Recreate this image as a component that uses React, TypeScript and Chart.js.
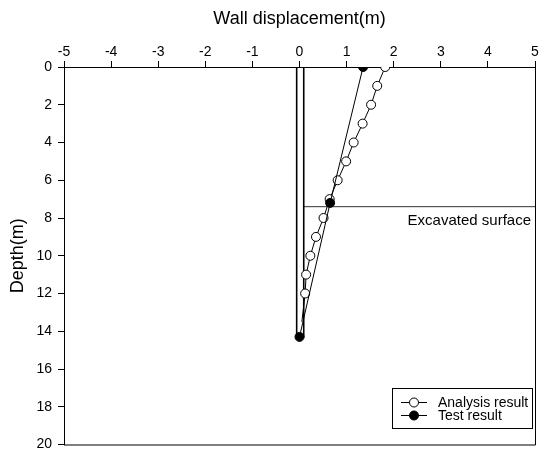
import React, { useEffect, useRef } from "react";
import { Chart, registerables } from "chart.js";

Chart.register(...registerables);

const analysisX = [1.82, 1.65, 1.52, 1.34, 1.15, 0.99, 0.81, 0.64, 0.51, 0.35, 0.23, 0.14, 0.12, 0.05];
const analysisDepth = [0, 1, 2, 3, 4, 5, 6, 7, 8, 9, 10, 11, 12, 13.5];
const testX = [1.35, 0.65, 0];
const testDepth = [0, 7.2, 14.3];
const wallX = [-0.06, -0.06, 0.09, 0.09];
const wallDepth = [0, 14.3, 14.3, 0];
const excavX = [0.09, 5];
const excavDepth = [7.4, 7.4];
const xTitle = "Wall displacement(m)";
const yTitle = "Depth(m)";
const legendLabels = ["Analysis result", "Test result"];
const excavLabel = "Excavated surface";

const FONT = "Arial, 'Liberation Sans', sans-serif";

function pts(xs: number[], ys: number[]) {
  return xs.map((x, i) => ({ x, y: ys[i] }));
}

const overlayPlugin = {
  id: "overlay",
  afterDatasetsDraw(chart: any) {
    const { ctx, chartArea } = chart;
    const ys = chart.scales.y;
    ctx.save();
    // right + bottom frame
    ctx.strokeStyle = "#000";
    ctx.lineWidth = 1;
    ctx.beginPath();
    ctx.moveTo(chartArea.right + 0.5, chartArea.top);
    ctx.lineTo(chartArea.right + 0.5, chartArea.bottom + 0.5);
    ctx.lineTo(chartArea.left, chartArea.bottom + 0.5);
    ctx.stroke();

    // excavated label
    ctx.fillStyle = "#000";
    ctx.font = `15px ${FONT}`;
    ctx.textAlign = "right";
    ctx.textBaseline = "alphabetic";
    ctx.fillText(excavLabel, chartArea.right - 4, ys.getPixelForValue(excavDepth[0]) + 18);

    // legend
    const bx = 392, by = 388, bw = 140, bh = 40;
    ctx.fillStyle = "#fff";
    ctx.fillRect(bx, by, bw, bh);
    ctx.strokeStyle = "#000";
    ctx.strokeRect(bx + 0.5, by + 0.5, bw, bh);
    const rows = [by + 14, by + 27];
    ctx.font = `14px ${FONT}`;
    ctx.textAlign = "left";
    ctx.textBaseline = "middle";
    rows.forEach((ry, i) => {
      ctx.beginPath();
      ctx.moveTo(401, ry + 0.5);
      ctx.lineTo(427, ry + 0.5);
      ctx.strokeStyle = "#000";
      ctx.lineWidth = 1;
      ctx.stroke();
      ctx.beginPath();
      ctx.arc(414, ry + 0.5, 4.5, 0, Math.PI * 2);
      ctx.fillStyle = i === 0 ? "#fff" : "#000";
      ctx.fill();
      ctx.stroke();
      ctx.fillStyle = "#000";
      ctx.fillText(legendLabels[i], 438, ry + 1);
    });
    ctx.restore();
  },
};

export default function App() {
  const ref = useRef<HTMLCanvasElement | null>(null);
  useEffect(() => {
    if (!ref.current) return;
    const chart = new Chart(ref.current, {
      type: "scatter",
      data: {
        datasets: [
          {
            label: legendLabels[0],
            data: pts(analysisX, analysisDepth),
            showLine: true,
            borderColor: "#000",
            borderWidth: 1,
            backgroundColor: "#fff",
            pointBackgroundColor: "#fff",
            pointBorderColor: "#000",
            pointBorderWidth: 1,
            pointRadius: analysisX.map((_, i) => (i === analysisX.length - 1 ? 0 : 4.5)),
            order: 1,
          },
          {
            label: legendLabels[1],
            data: pts(testX, testDepth),
            showLine: true,
            borderColor: "#000",
            borderWidth: 1,
            backgroundColor: "#000",
            pointBackgroundColor: "#000",
            pointBorderColor: "#000",
            pointRadius: 4.5,
            order: 0,
          },
          {
            label: "wall",
            data: pts(wallX, wallDepth),
            showLine: true,
            borderColor: "#000",
            borderWidth: 1.6,
            pointRadius: 0,
            order: 3,
          },
          {
            label: "excavation",
            data: pts(excavX, excavDepth),
            showLine: true,
            borderColor: "#333",
            borderWidth: 1,
            pointRadius: 0,
            order: 4,
          },
        ],
      },
      options: {
        animation: false,
        responsive: true,
        maintainAspectRatio: false,
        layout: { padding: { left: 0, top: 0, right: 6, bottom: 5 } },
        plugins: { legend: { display: false }, tooltip: { enabled: false } },
        scales: {
          x: {
            type: "linear",
            position: "top",
            min: -5,
            max: 5,
            ticks: { stepSize: 1, color: "#000", font: { size: 14, family: FONT }, padding: 0 },
            grid: { drawOnChartArea: false, drawTicks: true, tickLength: 6, color: "#000" },
            border: { display: true, color: "#000", width: 1 },
            title: {
              display: true,
              text: xTitle,
              color: "#000",
              font: { size: 18, family: FONT },
              padding: { top: 8, bottom: 0 },
            },
            afterFit: (s: any) => {
              s.height = 67;
            },
          },
          y: {
            type: "linear",
            reverse: true,
            min: 0,
            max: 20,
            ticks: { stepSize: 2, color: "#000", font: { size: 14, family: FONT }, padding: 6 },
            grid: { drawOnChartArea: false, drawTicks: true, tickLength: 6, color: "#000" },
            border: { display: true, color: "#000", width: 1 },
            title: {
              display: true,
              text: yTitle,
              color: "#000",
              font: { size: 18, family: FONT },
              padding: { top: 7, bottom: 0 },
            },
            afterFit: (s: any) => {
              s.width = 64;
              s.paddingTop = 0;
              s.paddingBottom = 5;
            },
          },
        },
      },
      plugins: [overlayPlugin],
    });
    return () => chart.destroy();
  }, []);
  return (
    <div style={{ position: "fixed", left: 0, top: 0, width: 541, height: 450, background: "#fff" }}>
      <canvas ref={ref} />
    </div>
  );
}
